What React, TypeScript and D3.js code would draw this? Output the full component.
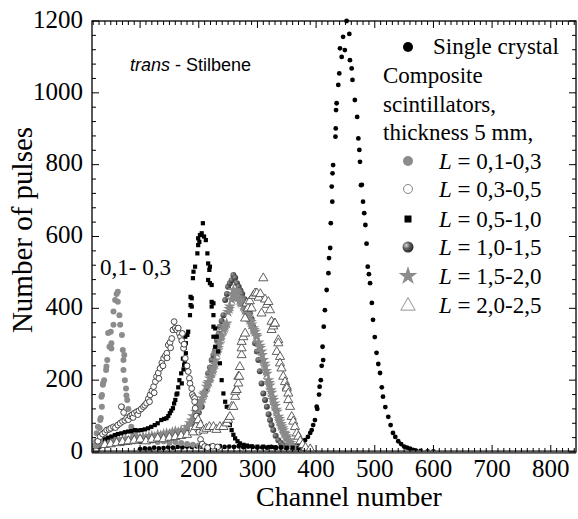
import React from "react";
import * as d3 from "d3";

// ---------- data (channel, number of pulses) ----------
const xTicks = [100, 200, 300, 400, 500, 600, 700, 800];
const yTicks = [0, 200, 400, 600, 800, 1000, 1200];

const singleCrystal: [number, number][] = [
  [100,8],[108,10],[116,9],[124,12],[132,10],[140,11],[148,13],[156,12],[164,14],[172,13],[180,15],[188,14],[196,16],[204,15],[212,17],[220,16],[228,15],[236,16],[244,14],[252,15],[260,14],[268,16],[276,13],[284,15],[292,14],[300,12],[308,13],[316,12],[324,14],[332,12],[340,13],[348,12],[356,14],[361,16],[366,19],[371,24],[376,28],[381,33],[386,42],[390,53],[392.5,61],[395,75],[398,89],[401,126],[402,120],[405,160],[406,182],[408,200],[409.5,240],[411,293],[412,256],[413,349],[415,395],[418,451],[421,498],[422,540],[424,568],[425,637],[426.6,739],[427.6,697],[428,776],[429,799],[433,878],[433.5,901],[434,952],[435,971],[437.8,1022],[439.5,1054],[440.7,1124],[443.6,1100],[446,1156],[449,1119],[452,1200],[456.6,1164],[457.7,1091],[460.6,1068],[462,1036],[466,980],[470,933],[472,873],[473.7,841],[474.8,808],[476.5,743],[478,744],[480,697],[482,665],[484,632],[486,580],[488,516],[490,495],[492,470],[495,415],[497,368],[500,320],[503,276],[506,245],[509,220],[512,180],[514,154],[518,125],[523,98],[527,75],[531,53],[535,42],[540,30],[545,22],[550,15],[555,12],[560,9],[565,6],[570,4],[578,3],[590,2],[600,2]
];

const comp01_03: [number, number][] = [
  [22,15],[25,30],[26,52],[28,70],[31,67],[32,89],[33,95],[34.8,126],[34,154],[35,159],[36.5,187],[37,192],[38.7,200],[42,228],[42.6,238],[44,256],[45.5,331],[47.7,293],[50,335],[51,288],[51,303],[54.6,354],[54.6,391],[57.4,423],[60,440],[62,446],[62,418],[64.7,381],[66,354],[69,326],[70.5,284],[71.6,256],[71.6,228],[73,270],[74,200],[76,177],[76.7,157],[78,145],[69,126],[80,120],[82,95],[85,70],[88,55],[92,45],[96,40],[100,38],[105,35],[110,33],[115,30],[122,32],[130,28],[140,30],[150,26],[160,28],[170,25],[180,22],[190,20],[200,18]
];

const comp03_05: [number, number][] = [
  [28,30],[32,43],[36,50],[40,55],[43,61],[47,63],[50,66],[54.6,70],[58,68],[62,75],[66,80],[68,126],[70,85],[72,110],[74,88],[77,94],[80,90],[83,100],[86,103],[88,96],[90,108],[94,112],[96,104],[98,115],[102,120],[105.6,126],[108,130],[111,136],[114,148],[116,140],[117,159],[120,170],[123,182],[124,165],[126,196],[128,210],[131,220],[132,205],[134,233],[137,248],[139,240],[140,261],[143,268],[145.5,275],[146,262],[148,298],[151,305],[152,290],[154,316],[156,340],[158,363],[160,345],[162.5,340],[165,345],[167,330],[169,321],[171,310],[172,330],[174,289],[175,300],[177,261],[180,240],[182,224],[184,205],[185,191],[188,177],[189,160],[191,154],[193,149],[193,140],[194,122],[196,100],[198,75],[200,55],[203,35],[206,22],[210,15],[215,12],[224,16],[232,14]
];

const comp05_10: [number, number][] = [
  [40,35],[45,40],[51,43],[57,47],[62,50],[68,52],[74,55],[79.6,57],[85,58],[91,61],[96,60],[102,61],[108,63],[113.6,66],[119,70],[125,75],[130,80],[136,89],[141,92],[145,94],[148,100],[150.6,108],[153,115],[156,122],[158,135],[160,145],[162,160],[163.5,163],[165,180],[167,200],[170,219],[171,191],[173,260],[174,230],[175,242],[176,247],[176,290],[177,321],[178,275],[178,303],[180.6,326],[182,335],[185,381],[186,409],[186,432],[188,428],[188,405],[190,484],[191,502],[193.7,516],[197.6,553],[199,576],[199,595],[201,585],[202,604],[205,609],[207,637],[209,600],[212,590],[214.7,553],[216,525],[216,479],[218,507],[219,470],[219,516],[222,418],[222,405],[222,465],[225,381],[225,414],[225,349],[225,321],[228,344],[228,293],[230.6,321],[233,280],[236,247],[239,200],[242,163],[245,140],[247.7,126],[250,89],[253,75],[256,61],[259,48],[262,38],[266,30],[270,24],[276,20],[282,18],[290,16],[300,15],[310,15],[320,14],[330,13],[340,13],[350,12],[360,12],[370,11],[380,10],[390,9]
];

const comp10_15: [number, number][] = [
  [30,15],[40,20],[50,22],[60,25],[70,25],[80,28],[90,30],[100,30],[110,32],[120,35],[130,38],[140,40],[150,45],[160,50],[170,55],[180,65],[190,80],[195,95],[200,110],[205,126],[208,163],[211,170],[213.6,182],[216,219],[219,235],[222,256],[225,270],[228,284],[231,312],[234,330],[236,349],[239,365],[242,381],[245,423],[248,440],[250,460],[253,470],[256,478],[259,493],[262,485],[265,470],[268,460],[271,450],[274,440],[278,425],[282,405],[287,386],[290,370],[293,349],[296,303],[299,280],[301.5,256],[304,225],[307,191],[310,163],[313,145],[316,126],[319,105],[321.5,89],[324,75],[327,61],[331,45],[335.6,33],[340,25],[344,19],[350,15],[360,12],[370,10],[380,8]
];

const comp15_20: [number, number][] = [
  [25,20],[30,25],[35,28],[40,30],[45,25],[50,32],[55,30],[60,35],[65,30],[70,33],[75,36],[80,32],[85,38],[90,35],[95,40],[100,38],[105,42],[110,40],[115,43],[120,45],[125,42],[130,48],[135,46],[140,50],[145,52],[150,50],[155,55],[160,58],[165,55],[170,60],[176,61],[180,70],[185,80],[190,100],[195,112],[200,130],[202,135],[206,150],[210,165],[213.6,182],[217,195],[220,210],[222,219],[225,235],[228,255],[230.6,275],[233,290],[236,312],[239,325],[242,340],[245,350],[247.6,358],[250,390],[253,405],[256,425],[259,451],[262,440],[265,445],[268,430],[270,423],[273,415],[276,405],[279,395],[282,385],[285,375],[287,367],[290,355],[293,345],[296,335],[299,321],[302,305],[305,290],[308,270],[310,256],[313,238],[316,218],[318.6,200],[321,185],[324,165],[327,145],[330,128],[333,112],[335.6,98],[338,85],[341,72],[344,61],[347,50],[350,40],[352.6,33],[356,25],[361,15],[366,10],[372,6],[380,4],
  [188,88],[198,118],[204,142],[208,160],[215,190],[219,205],[224,228],[227,245],[232,282],[235,300],[238,320],[244,345],[252,398],[258,438],[264,430],[271,418],[278,402],[284,380],[289,362],[294,340],[298,326],[304,296],[307,280],[312,246],[315,226],[320,192],[323,172],[326,152],[329,135],[332,118],[337,92],[340,78],[343,66],[346,54],[349,44],[354,30],[358,20]
];

const comp20_25: [number, number][] = [
  [40,20],[50,22],[60,25],[70,28],[80,30],[90,32],[100,35],[110,30],[120,35],[130,38],[140,36],[150,40],[160,42],[170,45],[180,48],[190,55],[195,70],[199,89],[203,75],[208,60],[213,65],[218,70],[225,70],[230,62],[236,70],[242,70],[247.6,80],[250,90],[253,98],[256,126],[259,126],[262,154],[262,168],[264.7,173],[267.5,191],[267.5,210],[269,210],[270,237],[273,270],[273,289],[273,307],[276,320],[279,330],[279,372],[281.8,414],[284,400],[287,420],[290,400],[293,435],[296,442],[299,442],[302,430],[305,440],[307,386],[310,484],[313,425],[316,410],[318.6,418],[321.5,395],[324,363],[324,340],[327,350],[329,358],[330,358],[333,279],[335.6,312],[335.6,303],[338.5,265],[338.5,247],[341,233],[344,210],[347,195],[350,182],[350,177],[352.6,163],[352.6,145],[355.6,126],[358.4,98],[361,85],[364,70],[367,52],[369.7,43],[373,30],[377,20],[382,12],[390,8]
];

// ---------- layout ----------
const W = 578, H = 519;
const L = 92, R = 576, T = 21, B = 452;
const x = d3.scaleLinear().domain([18, 843]).range([L, R]);
const y = d3.scaleLinear().domain([0, 1200]).range([B, T]);

const serif = "'Liberation Serif', 'Times New Roman', serif";
const sans = "'Liberation Sans', Arial, sans-serif";

const starPath = d3.symbol().type(d3.symbolStar).size(44)() as string;
const triPath = d3.symbol().type(d3.symbolTriangle).size(36)() as string;
const starLeg = d3.symbol().type(d3.symbolStar).size(110)() as string;
const triLeg = d3.symbol().type(d3.symbolTriangle).size(90)() as string;

export default function App() {
  const xMinor = d3.range(20, 843, 10);
  const yMinor = d3.range(0, 1201, 40);
  const legendRows = [
    { label: "0,1-0,3", base: 169, kind: "gray" },
    { label: "0,3-0,5", base: 197, kind: "open" },
    { label: "0,5-1,0", base: 227, kind: "square" },
    { label: "1,0-1,5", base: 255, kind: "sphere" },
    { label: "1,5-2,0", base: 284, kind: "star" },
    { label: "2,0-2,5", base: 313, kind: "tri" },
  ];
  const legendSym = (kind: string, cx: number, cy: number) => {
    switch (kind) {
      case "gray": return <circle cx={cx} cy={cy} r={5} fill="#8c8c8c" />;
      case "open": return <circle cx={cx} cy={cy} r={4.5} fill="#fff" stroke="#777" strokeWidth={0.9} />;
      case "square": return <rect x={cx - 3.5} y={cy - 3.5} width={7} height={7} fill="#000" />;
      case "sphere": return <circle cx={cx} cy={cy} r={5.5} fill="url(#sphG)" />;
      case "star": return <path d={starLeg} transform={`translate(${cx},${cy})`} fill="#8c8c8c" />;
      default: return <path d={triLeg} transform={`translate(${cx},${cy + 1})`} fill="#fff" stroke="#888" strokeWidth={0.9} />;
    }
  };
  return (
    <svg width={W} height={H} style={{ position: "absolute", left: 0, top: 0, background: "#fff" }}>
      <defs>
        <radialGradient id="sphG" cx="35%" cy="35%" r="70%">
          <stop offset="0%" stopColor="#d8d8d8" />
          <stop offset="45%" stopColor="#606060" />
          <stop offset="100%" stopColor="#222" />
        </radialGradient>
        <radialGradient id="sphS" cx="35%" cy="35%" r="70%">
          <stop offset="0%" stopColor="#999" />
          <stop offset="60%" stopColor="#505050" />
          <stop offset="100%" stopColor="#333" />
        </radialGradient>
        <clipPath id="plotClip"><rect x={L} y={T - 3} width={R - L} height={B - T + 3} /></clipPath>
      </defs>
      <rect width={W} height={H} fill="#fff" />

      <g clipPath="url(#plotClip)">
        {singleCrystal.map(([c, v], i) => <circle key={"s" + i} cx={x(c)} cy={y(v)} r={2.4} fill="#000" />)}
        {comp01_03.map(([c, v], i) => <circle key={"a" + i} cx={x(c)} cy={y(v)} r={3} fill="#8c8c8c" />)}
        {comp10_15.map(([c, v], i) => <circle key={"d" + i} cx={x(c)} cy={y(v)} r={3} fill="url(#sphS)" />)}
        {comp15_20.map(([c, v], i) => <path key={"e" + i} d={starPath} transform={`translate(${x(c)},${y(v)})`} fill="#8a8a8a" />)}
        {comp05_10.map(([c, v], i) => <rect key={"c" + i} x={x(c) - 2.1} y={y(v) - 2.1} width={4.2} height={4.2} fill="#000" />)}
        {comp03_05.map(([c, v], i) => <circle key={"b" + i} cx={x(c)} cy={y(v)} r={2.9} fill="#fff" stroke="#333" strokeWidth={0.9} />)}
        {comp20_25.map(([c, v], i) => <path key={"f" + i} d={triPath} transform={`translate(${x(c)},${y(v)})`} fill="#fff" stroke="#444" strokeWidth={0.85} />)}
      </g>

      {/* frame */}
      <rect x={L} y={T} width={R - L} height={B - T} fill="none" stroke="#000" strokeWidth={1.3} />
      <line x1={L} x2={R} y1={B} y2={B} stroke="#555" strokeWidth={3.5} />

      {/* x ticks */}
      {xMinor.map((t) => {
        const major = t % 100 === 0;
        const len = major ? 7 : 4;
        return (
          <g key={"xt" + t}>
            <line x1={x(t)} x2={x(t)} y1={B} y2={B - len} stroke="#000" strokeWidth={1} />
            <line x1={x(t)} x2={x(t)} y1={T} y2={T + len} stroke="#000" strokeWidth={1} />
          </g>
        );
      })}
      {yMinor.map((t) => {
        const major = t % 200 === 0;
        const len = major ? 7 : 4;
        return (
          <g key={"yt" + t}>
            <line x1={L} x2={L + len} y1={y(t)} y2={y(t)} stroke="#000" strokeWidth={1} />
            <line x1={R} x2={R - len} y1={y(t)} y2={y(t)} stroke="#000" strokeWidth={1} />
          </g>
        );
      })}

      {/* tick labels */}
      {xTicks.map((t) => (
        <text key={"xl" + t} x={x(t)} y={477} textAnchor="middle" fontFamily={serif} fontSize={25}>{t}</text>
      ))}
      {yTicks.map((t) => (
        <text key={"yl" + t} x={83} y={y(t) - 2} dy="0.35em" textAnchor="end" fontFamily={serif} fontSize={25}>{t}</text>
      ))}

      {/* axis titles */}
      <text x={349} y={506} textAnchor="middle" fontFamily={serif} fontSize={28}>Channel number</text>
      <text transform="translate(32,230) rotate(-90)" textAnchor="middle" fontFamily={serif} fontSize={29}>Number of pulses</text>

      {/* annotations */}
      <text x={130} y={71} fontFamily={sans} fontSize={18}>
        <tspan fontStyle="italic">trans</tspan> - Stilbene
      </text>
      <text x={100} y={275} fontFamily={serif} fontSize={23}>0,1- 0,3</text>

      {/* legend */}
      <circle cx={408} cy={47} r={5} fill="#000" />
      <text x={433} y={54} fontFamily={serif} fontSize={23}>Single crystal</text>
      <text x={383} y={83} fontFamily={serif} fontSize={23}>Composite</text>
      <text x={383} y={112} fontFamily={serif} fontSize={23}>scintillators,</text>
      <text x={383} y={140} fontFamily={serif} fontSize={23}>thickness 5 mm,</text>
      {legendRows.map((r) => (
        <g key={r.label}>
          {legendSym(r.kind, 408, r.base - 8)}
          <text x={439} y={r.base} fontFamily={serif} fontSize={23}>
            <tspan fontStyle="italic">L</tspan> = {r.label}
          </text>
        </g>
      ))}
    </svg>
  );
}
